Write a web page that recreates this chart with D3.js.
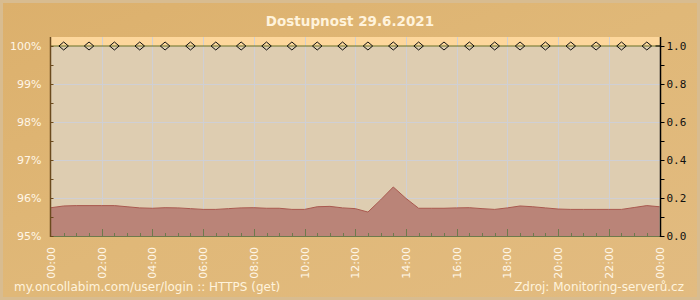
<!DOCTYPE html>
<html><head><meta charset="utf-8">
<script src="https://cdn.jsdelivr.net/npm/d3@7"></script>
<style>body{margin:0;background:#fff}svg{display:block}</style>
</head><body>
<svg id="c" width="700" height="300"></svg>
<script>
const title = "Dostupnost 29.6.2021";
const footerLeft = "my.oncollabim.com/user/login :: HTTPS (get)";
const footerRight = "Zdroj: Monitoring-serverů.cz";
// availability (%) sampled every 30 min, hours 0..24
const hours = d3.range(0, 24.01, 0.5);
const availability = [95.745,95.79,95.80,95.80,95.80,95.80,95.77,95.74,95.73,95.745,95.74,95.72,95.70,95.70,95.72,95.74,95.745,95.73,95.73,95.70,95.70,95.77,95.78,95.74,95.72,95.63,95.95,96.29,95.99,95.73,95.73,95.73,95.74,95.745,95.72,95.70,95.74,95.79,95.77,95.74,95.71,95.70,95.70,95.70,95.70,95.70,95.75,95.80,95.77];
// up-state markers (value 1.0 on right axis) at half hours
const markerHours = d3.range(0.5, 24, 1);
const markerValues = markerHours.map(() => 1.0);
const leftTicks = [95,96,97,98,99,100];
const leftTickLabels = ["95%","96%","97%","98%","99%","100%"];
const rightTicks = [0,0.2,0.4,0.6,0.8,1.0];
const xTickHours = d3.range(0, 24.01, 2);
const xTickLabels = ["00:00","02:00","04:00","06:00","08:00","10:00","12:00","14:00","16:00","18:00","20:00","22:00","00:00"];

const svg = d3.select("#c");
const defs = svg.append("defs");
const g1 = defs.append("linearGradient").attr("id","bg").attr("x1","0").attr("y1","0").attr("x2","1").attr("y2","1");
g1.append("stop").attr("offset","0").attr("stop-color","#dcb06c");
g1.append("stop").attr("offset","0.5").attr("stop-color","#e0b878");
g1.append("stop").attr("offset","1").attr("stop-color","#e2bb80");

svg.append("rect").attr("width",700).attr("height",300).attr("fill","#d8bc90");
svg.append("rect").attr("x",3).attr("y",3).attr("width",694).attr("height",294).attr("fill","url(#bg)");

const L = 50, R = 660, T = 37, B = 236;
const x = d3.scaleLinear().domain([0,24]).range([51,659.5]);
const y = d3.scaleLinear().domain([95,100]).range([B,46]);
const y2 = d3.scaleLinear().domain([0,1]).range([B,46]);

// plot backgrounds
svg.append("rect").attr("x",L).attr("y",T).attr("width",R-L).attr("height",y(100)-T).attr("fill","#fdd79c");
svg.append("rect").attr("x",L).attr("y",y(100)).attr("width",R-L).attr("height",B-y(100)).attr("fill","#decdb1");

// grid
const grid = svg.append("g").attr("stroke","#cfcfd4").attr("stroke-width",1);
[96,97,98,99].forEach(v => grid.append("line").attr("x1",L).attr("x2",R).attr("y1",Math.round(y(v))+0.5).attr("y2",Math.round(y(v))+0.5));
xTickHours.slice(1,-1).forEach(h => grid.append("line").attr("x1",Math.round(x(h))+0.5).attr("x2",Math.round(x(h))+0.5).attr("y1",T).attr("y2",B));

// area
const pts = hours.map((h,i)=>[h,availability[i]]);
svg.append("path").datum(pts)
  .attr("d", d3.area().x(d=>x(d[0])).y0(B).y1(d=>y(d[1])))
  .attr("fill","#ba8478");
svg.append("path").datum(pts)
  .attr("d", d3.line().x(d=>x(d[0])).y(d=>y(d[1])))
  .attr("fill","none").attr("stroke","#a9594f").attr("stroke-width",1);

// bottom minor ticks every 30 min
const bt = svg.append("g").attr("stroke","#6e7a4c");
d3.range(0.5, 24, 0.5).forEach(h => {
  const len = (h % 2 === 0) ? 7 : 3;
  bt.append("line").attr("x1",Math.round(x(h))+0.5).attr("x2",Math.round(x(h))+0.5).attr("y1",B).attr("y2",B-len);
});
svg.append("line").attr("x1",L).attr("x2",R).attr("y1",B+0.5).attr("y2",B+0.5).attr("stroke","#6e7a4c").attr("stroke-width",1);

// 100% line + markers
svg.append("line").attr("x1",L).attr("x2",R).attr("y1",y2(1)).attr("y2",y2(1)).attr("stroke","#6a7228").attr("stroke-width",1.2);
svg.append("g").selectAll("path").data(markerHours).join("path")
  .attr("d", d3.symbol().type(d3.symbolDiamond).size(40))
  .attr("transform",(d,i)=>`translate(${x(d)},${y2(markerValues[i])}) scale(1.4,0.68)`)
  .attr("fill","none").attr("stroke","#111").attr("stroke-width",1).attr("vector-effect","non-scaling-stroke");

// left axis
const la = svg.append("g").attr("transform",`translate(${L+0.5},0)`);
la.append("line").attr("y1",T).attr("y2",B+1).attr("stroke","#6b4a1e").attr("stroke-width",1.5);
d3.range(95, 100.01, 0.5).forEach(v => {
  la.append("line").attr("x1",0).attr("x2",3).attr("y1",Math.round(y(v))+0.5).attr("y2",Math.round(y(v))+0.5).attr("stroke","#6b4a1e");
});
la.selectAll("text").data(leftTicks).join("text")
  .attr("x",-9).attr("y",d=>y(d)+4).attr("text-anchor","end")
  .attr("font-family","DejaVu Sans, sans-serif").attr("font-size",11).attr("fill","#fff6e6")
  .text((d,i)=>leftTickLabels[i]);

// right axis
const ra = svg.append("g").attr("transform",`translate(${R+0.5},0)`);
ra.append("line").attr("y1",T).attr("y2",B+1).attr("stroke","#000").attr("stroke-width",1.5);
d3.range(0, 1.001, 0.1).forEach(v => {
  ra.append("line").attr("x1",0).attr("x2",4).attr("y1",Math.round(y2(v))+0.5).attr("y2",Math.round(y2(v))+0.5).attr("stroke","#000");
});
ra.append("line").attr("x1",-5).attr("x2",0).attr("y1",y2(1)).attr("y2",y2(1)).attr("stroke","#000");
ra.selectAll("text").data(rightTicks).join("text")
  .attr("x",6).attr("y",d=>y2(d)+4).attr("text-anchor","start")
  .attr("font-family","DejaVu Sans Mono, monospace").attr("font-size",11).attr("fill","#111")
  .text(d=>d.toFixed(1));

// x labels
svg.append("g").selectAll("text").data(xTickHours).join("text")
  .attr("transform",d=>`translate(${x(d)+4},${B+11}) rotate(-90)`)
  .attr("text-anchor","end")
  .attr("font-family","DejaVu Sans, sans-serif").attr("font-size",11).attr("fill","#fff6e6")
  .text((d,i)=>xTickLabels[i]);

// title
svg.append("text").attr("x",350).attr("y",26).attr("text-anchor","middle")
  .attr("font-family","DejaVu Sans, sans-serif").attr("font-weight","bold").attr("font-size",13.5)
  .attr("fill","#fff3dc").text(title);

// footer
svg.append("text").attr("x",14).attr("y",291)
  .attr("font-family","DejaVu Sans, sans-serif").attr("font-size",12).attr("fill","#fff3dc").text(footerLeft);
svg.append("text").attr("x",684).attr("y",291).attr("text-anchor","end")
  .attr("font-family","DejaVu Sans, sans-serif").attr("font-size",12).attr("fill","#fff3dc").text(footerRight);
</script>
</body></html>
